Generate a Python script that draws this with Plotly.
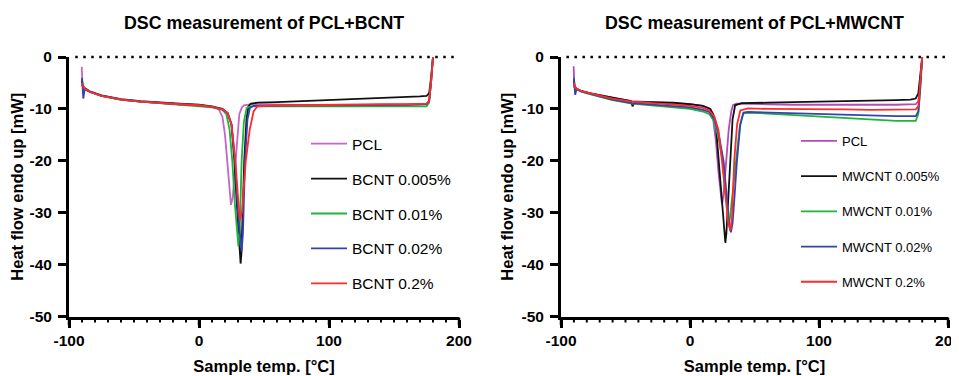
import plotly.graph_objects as go

# ---------------- DATA ----------------
# Left panel: PCL + BCNT
bcnt_pcl_T  = [-90.2, -90.0, -89.6, -88, -84, -75, -60, -45, -30, -15, 0, 10, 15, 18, 20, 22, 24, 24.6, 26, 27.5, 29, 31, 33, 34.6, 40, 60, 80, 100, 120, 140, 160, 175, 177, 178.5, 180]
bcnt_pcl_HF = [-1.9, -5.0, -5.6, -6.2, -6.8, -7.5, -8.2, -8.6, -8.9, -9.1, -9.3, -9.6, -10.0, -11.5, -15.0, -21.5, -27.5, -28.5, -27.0, -22.0, -16.0, -11.0, -9.7, -9.3, -9.1, -9.2, -9.3, -9.3, -9.4, -9.4, -9.3, -9.1, -8.5, -5.0, 0.0]

bcnt_005_T  = [-90.0, -89.5, -88, -84, -75, -60, -45, -30, -15, 0, 10, 18, 22, 25, 27.2, 29, 30.3, 31.2, 32.0, 32.6, 33.3, 34.8, 36.5, 38, 40, 45, 60, 80, 100, 120, 140, 160, 170, 175, 177, 178.5, 180]
bcnt_005_HF = [-4.5, -5.4, -6.0, -6.6, -7.4, -8.1, -8.5, -8.8, -9.0, -9.2, -9.5, -10.0, -10.8, -13.0, -20.0, -28.0, -33.0, -37.5, -39.8, -38.0, -33.0, -20.0, -12.0, -9.5, -9.0, -8.8, -8.7, -8.5, -8.4, -8.2, -8.0, -7.8, -7.6, -7.5, -7.0, -4.0, 0.0]

bcnt_001_T  = [-90.0, -89.5, -88, -84, -75, -60, -45, -30, -15, 0, 10, 18, 21, 23.5, 25.6, 27.5, 29.3, 30.3, 31.3, 32.8, 34.5, 36.7, 40, 60, 80, 100, 120, 140, 160, 175, 177, 178.5, 180]
bcnt_001_HF = [-5.0, -5.6, -6.1, -6.7, -7.5, -8.2, -8.6, -8.9, -9.2, -9.4, -9.7, -10.2, -11.0, -14.0, -20.0, -28.0, -34.0, -36.5, -33.5, -20.0, -12.5, -9.8, -9.5, -9.5, -9.6, -9.6, -9.6, -9.6, -9.6, -9.5, -8.8, -5.0, 0.0]

bcnt_002_T  = [-90.0, -89.5, -89.0, -88, -84, -75, -60, -45, -30, -15, 0, 10, 18, 22, 25, 27.7, 30, 31.8, 32.8, 33.8, 35.4, 37.3, 39.2, 42, 60, 80, 100, 120, 140, 160, 175, 177, 178.5, 180]
bcnt_002_HF = [-4.0, -5.5, -8.0, -6.2, -6.7, -7.5, -8.2, -8.6, -8.9, -9.1, -9.3, -9.6, -10.1, -10.8, -13.0, -20.0, -30.0, -36.0, -37.5, -34.0, -20.0, -12.0, -9.8, -9.4, -9.3, -9.3, -9.3, -9.3, -9.3, -9.2, -9.1, -8.5, -5.0, 0.0]

bcnt_02_T   = [-90.0, -89.5, -88, -84, -75, -60, -45, -30, -15, 0, 10, 18, 22, 25, 28, 30, 31.5, 33, 34.5, 36, 39, 42, 45, 60, 80, 100, 120, 140, 160, 175, 177, 178.5, 180]
bcnt_02_HF  = [-5.0, -5.6, -6.1, -6.7, -7.5, -8.2, -8.6, -8.9, -9.1, -9.3, -9.6, -10.1, -10.8, -13.0, -20.0, -27.0, -31.4, -30.0, -25.0, -20.0, -14.0, -10.5, -9.5, -9.3, -9.3, -9.2, -9.2, -9.1, -9.1, -9.0, -8.5, -5.0, 0.0]

# Right panel: PCL + MWCNT
mw_pcl_T    = [-90.2, -90.0, -89.6, -88, -84, -77, -60, -45, -30, -13, 0, 10, 15.7, 18, 20, 22, 24, 24.8, 26, 28, 30, 32, 33.3, 36, 45, 60, 80, 100, 120, 140, 160, 175, 177, 178.5, 180]
mw_pcl_HF   = [-1.8, -5.0, -5.8, -6.2, -6.6, -7.0, -7.9, -8.5, -8.7, -8.8, -9.1, -9.4, -10.0, -12.0, -16.0, -22.0, -27.5, -28.4, -26.5, -20.0, -14.0, -10.5, -9.3, -9.0, -9.0, -9.1, -9.2, -9.2, -9.3, -9.3, -9.2, -9.1, -8.5, -5.0, 0.0]

mw_005_T    = [-90.0, -89.5, -88, -84, -77, -60, -46, -44.5, -43, -30, -13, 0, 10, 15.7, 18, 20, 22.2, 24, 25.5, 26.5, 27.4, 28.2, 29, 31.2, 33, 35, 40, 60, 80, 95.6, 120, 140, 160, 170.8, 175, 177, 178.5, 180]
mw_005_HF   = [-4.5, -5.6, -6.1, -6.6, -7.0, -7.9, -8.5, -9.5, -8.8, -8.7, -8.8, -9.1, -9.4, -10.0, -11.0, -13.0, -20.0, -26.0, -31.0, -34.5, -35.8, -34.0, -30.0, -20.0, -12.0, -9.3, -8.9, -8.8, -8.7, -8.6, -8.5, -8.5, -8.3, -8.2, -8.0, -7.0, -4.0, 0.0]

mw_001_T    = [-90.0, -89.5, -88, -84, -77, -60, -45, -30, -13, 0, 10, 15, 19, 22, 25.3, 27.5, 29, 29.9, 31, 33, 35.9, 38.5, 41.1, 45, 60, 80, 100, 120, 140, 160, 175, 177, 178.5, 180]
mw_001_HF   = [-5.0, -5.8, -6.2, -6.7, -7.2, -8.3, -9.0, -9.3, -9.6, -10.0, -10.5, -11.0, -12.5, -15.5, -20.0, -26.0, -30.5, -32.2, -31.0, -26.0, -20.0, -13.5, -10.9, -10.7, -10.9, -11.2, -11.5, -11.8, -12.1, -12.3, -12.3, -11.0, -6.0, 0.0]

mw_002_T    = [-90.0, -89.5, -89.0, -88, -84, -77, -60, -45, -30, -13, 0, 10, 15, 19, 22, 26, 28.5, 30.5, 31.7, 33, 34.5, 36.4, 39, 41.5, 45, 60, 80, 100, 120, 140, 160, 175, 177, 178.5, 180]
mw_002_HF   = [-4.0, -5.6, -7.3, -6.2, -6.7, -7.1, -8.2, -8.9, -9.2, -9.4, -9.7, -10.2, -10.6, -12.0, -14.5, -20.0, -27.0, -32.5, -33.8, -32.0, -27.0, -20.0, -13.0, -10.7, -10.6, -10.7, -10.9, -11.0, -11.2, -11.3, -11.4, -11.4, -10.5, -6.0, 0.0]

mw_02_T     = [-90.0, -89.5, -88, -84, -77, -60, -45, -30, -13, 0, 10, 15, 19, 22, 24.8, 27.5, 29.5, 31.2, 32.5, 34.3, 36.5, 39, 45, 60, 80, 100, 120, 140, 160, 175, 177, 178.5, 180]
mw_02_HF    = [-5.0, -5.7, -6.1, -6.6, -7.0, -8.0, -8.6, -8.9, -9.1, -9.4, -9.8, -10.3, -11.5, -14.0, -20.0, -27.0, -31.5, -33.5, -31.0, -20.0, -13.0, -10.3, -9.9, -10.0, -10.0, -10.0, -10.1, -10.2, -10.1, -10.1, -9.5, -5.5, 0.0]

bcnt_names = ["PCL", "BCNT 0.005%", "BCNT 0.01%", "BCNT 0.02%", "BCNT 0.2%"]
mw_names   = ["PCL", "MWCNT 0.005%", "MWCNT 0.01%", "MWCNT 0.02%", "MWCNT 0.2%"]
bcnt_colors = ["#c266c9", "#111111", "#1fb43c", "#3344b0", "#ff2a2a"]
mw_colors   = ["#b24bbb", "#111111", "#1fb43c", "#3344b0", "#ff2a2a"]

titles = ["DSC measurement of PCL+BCNT", "DSC measurement of PCL+MWCNT"]
x_title = "Sample temp. [°C]"
y_title = "Heat flow endo up [mW]"
x_range = [-100, 200]
x_ticks = [-100, 0, 100, 200]
x_tick_labels = ["-100", "0", "100", "200"]
x_minor_step = 10
y_range = [-50, 0]
y_ticks = [0, -10, -20, -30, -40, -50]
y_tick_labels = ["0", "-10", "-20", "-30", "-40", "-50"]

left_series = [(bcnt_pcl_T, bcnt_pcl_HF), (bcnt_005_T, bcnt_005_HF), (bcnt_001_T, bcnt_001_HF),
               (bcnt_002_T, bcnt_002_HF), (bcnt_02_T, bcnt_02_HF)]
right_series = [(mw_pcl_T, mw_pcl_HF), (mw_005_T, mw_005_HF), (mw_001_T, mw_001_HF),
                (mw_002_T, mw_002_HF), (mw_02_T, mw_02_HF)]

# ---------------- FIGURE ----------------
# The page body has an 8px margin, so the figure is drawn 8px smaller and
# all pixel positions (measured on the 959x376 window) are shifted by 8.
OFF = 8
W, H = 959 - OFF, 376 - OFF
FONT = "Arial, Liberation Sans, Helvetica, sans-serif"

fig = go.Figure()

for i, ((t, hf), name, col) in enumerate(zip(left_series, bcnt_names, bcnt_colors)):
    fig.add_trace(go.Scatter(x=t, y=hf, mode="lines", name=name, line=dict(color=col, width=1.8),
                             xaxis="x", yaxis="y", legend="legend", legendgroup="L%d" % i))
for i, ((t, hf), name, col) in enumerate(zip(right_series, mw_names, mw_colors)):
    fig.add_trace(go.Scatter(x=t, y=hf, mode="lines", name=name, line=dict(color=col, width=1.8),
                             xaxis="x2", yaxis="y2", legend="legend2", legendgroup="R%d" % i))

def px_x(p):
    return (p - OFF) / W

def px_y(p):
    return 1 - (p - OFF) / H

X0L, X1L, X0R, X1R = 69, 459, 561, 948
Y_TOP, Y_BOT = 57, 316.5
xdomL = [px_x(X0L), px_x(X1L)]
xdomR = [px_x(X0R), px_x(X1R)]
ydom = [px_y(Y_BOT), px_y(Y_TOP)]

def xaxis(domain, anchor):
    return dict(domain=domain, anchor=anchor, range=x_range,
                tickmode="array", tickvals=x_ticks, ticktext=["<b>%s</b>" % s for s in x_tick_labels],
                showline=True, linecolor="black", linewidth=3, ticks="outside", ticklen=8,
                tickwidth=2.5, tickcolor="black", showgrid=False, zeroline=False,
                tickfont=dict(family=FONT, size=15.5, color="black"),
                ticklabelstandoff=0, ticklabeloverflow="allow",
                title=dict(text="<b>%s</b>" % x_title, font=dict(family=FONT, size=16.5, color="black"), standoff=13),
                automargin=False, fixedrange=True)

def yaxis(domain, anchor):
    return dict(domain=domain, anchor=anchor, range=y_range,
                tickmode="array", tickvals=y_ticks, ticktext=["<b>%s</b>" % s for s in y_tick_labels],
                showline=True, linecolor="black", linewidth=3, ticks="outside", ticklen=8,
                tickwidth=2.5, tickcolor="black", showgrid=False, zeroline=False,
                tickfont=dict(family=FONT, size=15.5, color="black"),
                ticklabelstandoff=3,
                title=dict(text="<b>%s</b>" % y_title, font=dict(family=FONT, size=16.5, color="black"), standoff=4),
                automargin=False, fixedrange=True)

# x ticks every 10 degrees (longer at the labelled hundreds), drawn in paper
# coordinates along each x axis so they are not clipped by the plot area
shapes = []
for dom in (xdomL, xdomR):
    for v in range(x_ticks[0], x_ticks[-1] + 1, x_minor_step):
        f = (v - x_range[0]) / (x_range[1] - x_range[0])
        xp = dom[0] + f * (dom[1] - dom[0])
        major = v in x_ticks
        shapes.append(dict(type="line", xref="paper", yref="paper", x0=xp, x1=xp,
                           y0=px_y(Y_BOT + 1), y1=px_y(Y_BOT + (8.5 if major else 6)),
                           line=dict(color="black", width=2.5 if major else 2)))

# dotted zero line across the top of each plot
for dom, start in ((xdomL, 0.016), (xdomR, 0.014)):
    shapes.append(dict(type="line", xref="paper", yref="paper",
                       x0=dom[0] + start * (dom[1] - dom[0]), x1=dom[1], y0=ydom[1], y1=ydom[1],
                       line=dict(color="black", width=2.5, dash="2.5px,5.5px")))

legend_common = dict(bgcolor="rgba(0,0,0,0)", borderwidth=0, itemwidth=36,
                     xanchor="left", yanchor="top", itemclick=False, itemdoubleclick=False)

fig.update_layout(
    width=W, height=H,
    margin=dict(l=0, r=0, t=0, b=0),
    paper_bgcolor="white", plot_bgcolor="white",
    xaxis=xaxis(xdomL, "y"), yaxis=yaxis(ydom, "x"),
    xaxis2=xaxis(xdomR, "y2"), yaxis2=yaxis(ydom, "x2"),
    legend=dict(x=px_x(306), y=px_y(127), tracegroupgap=11.8,
                font=dict(family=FONT, size=15.5, color="black"), **legend_common),
    legend2=dict(x=px_x(796), y=px_y(126), tracegroupgap=15.3,
                 font=dict(family=FONT, size=13, color="black"), **legend_common),
    showlegend=True,
    annotations=[
        dict(text="<b>%s</b>" % titles[0], x=(xdomL[0] + xdomL[1]) / 2, y=px_y(23), xref="paper", yref="paper",
             showarrow=False, xanchor="center", yanchor="middle",
             font=dict(family=FONT, size=17.8, color="black")),
        dict(text="<b>%s</b>" % titles[1], x=(xdomR[0] + xdomR[1]) / 2, y=px_y(23), xref="paper", yref="paper",
             showarrow=False, xanchor="center", yanchor="middle",
             font=dict(family=FONT, size=17.8, color="black")),
    ],
    shapes=shapes,
)

fig.write_html("out.html")
